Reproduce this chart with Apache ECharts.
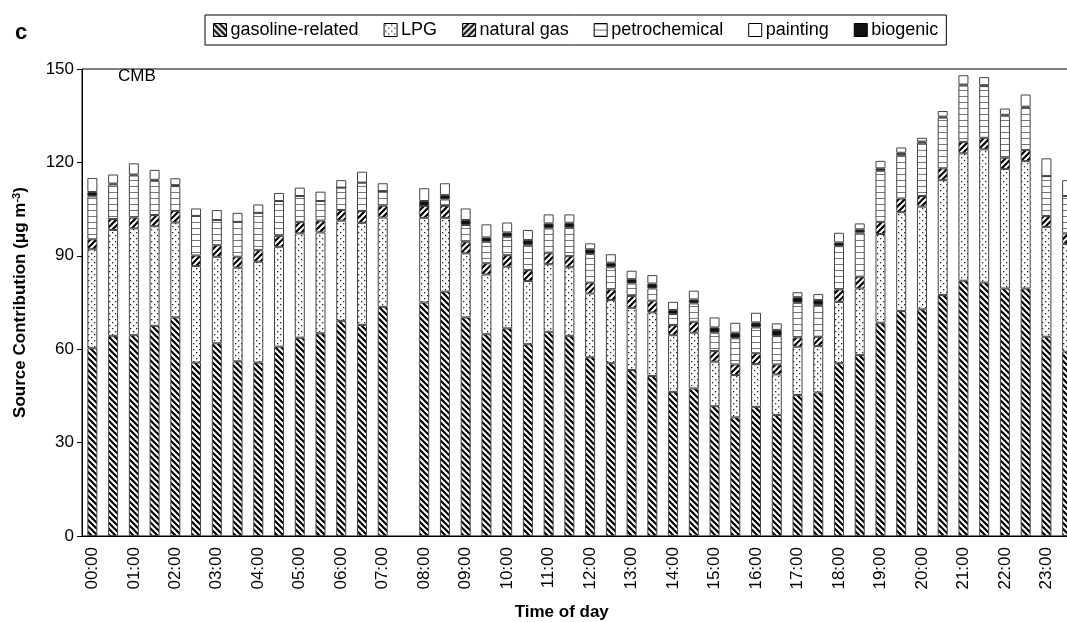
<!DOCTYPE html>
<html><head><meta charset="utf-8">
<script src="https://cdn.jsdelivr.net/npm/echarts@6/dist/echarts.min.js"></script>
<style>html,body{margin:0;padding:0;background:#fff}#c{width:1067px;height:622px}</style>
</head><body><div id="c"></div>
<script>
const times = ['00:00','00:30','01:00','01:30','02:00','02:30','03:00','03:30','04:00','04:30','05:00','05:30',
  '06:00','06:30','07:00','07:30','08:00','08:30','09:00','09:30','10:00','10:30','11:00','11:30',
  '12:00','12:30','13:00','13:30','14:00','14:30','15:00','15:30','16:00','16:30','17:00','17:30',
  '18:00','18:30','19:00','19:30','20:00','20:30','21:00','21:30','22:00','22:30','23:00','23:30'];
const gasoline = [60.3,64.3,64.5,67.5,70.2,55.7,61.9,56.1,55.7,60.8,63.7,65.1,69.1,67.8,73.6,null,
  75.0,78.5,70.2,64.8,66.7,61.6,65.6,64.3,57.4,55.5,53.3,51.4,46.3,47.4,41.7,38.1,
  41.5,38.9,45.3,46.1,55.5,58.1,68.5,72.3,72.8,77.4,82.0,81.4,79.5,79.5,64.0,59.2];
const lpg = [31.8,34.0,34.3,32.0,30.5,31.0,27.8,30.1,32.4,32.1,33.5,32.4,32.2,32.8,28.7,null,
  27.2,23.7,20.6,19.2,19.8,20.3,21.7,22.0,20.5,20.3,20.0,20.4,18.2,17.9,14.3,13.6,
  13.7,13.0,15.5,14.9,19.7,21.4,28.5,31.7,33.0,36.9,40.9,42.8,38.4,40.9,35.3,34.6];
const naturalGas = [3.2,3.5,3.5,3.6,3.7,3.4,3.7,3.5,3.7,3.5,3.7,3.8,3.4,3.8,3.8,null,
  3.8,3.8,3.7,3.6,3.7,3.5,3.7,3.6,3.5,3.4,3.8,3.8,3.3,3.5,3.4,3.4,
  3.5,3.2,3.0,3.0,4.0,3.8,3.9,4.4,3.4,3.8,3.7,3.7,3.6,3.6,3.5,3.4];
const petrochemical = [13.8,11.1,13.5,11.0,8.0,12.7,8.1,11.2,12.0,11.2,8.3,6.3,7.2,9.1,4.7,null,
  0,2.1,5.4,6.9,5.9,8.0,7.8,9.1,9.2,7.1,4.0,3.9,3.5,5.9,5.9,8.4,
  8.3,9.1,11.1,10.2,13.9,14.1,16.4,13.9,17.1,16.3,18.1,16.6,13.5,13.6,12.8,12.0];
const painting = [4.5,2.9,3.6,3.2,2.2,2.4,3.2,2.9,2.7,2.6,2.7,3.0,2.4,3.5,2.5,null,
  4.1,3.8,3.7,4.2,3.2,3.2,2.9,2.7,1.9,2.7,2.7,2.7,2.6,2.8,3.2,3.2,
  3.1,2.1,1.6,1.9,3.1,1.9,2.4,1.7,1.2,1.8,3.0,2.6,2.0,3.9,5.7,5.1];
const biogenic = [1.4,0.3,0.3,0.3,0.3,0,0,0,0,0,0,0,0,0,0,null,
  1.6,1.4,1.6,1.4,1.4,1.7,1.6,1.6,1.5,1.5,1.4,1.6,1.3,1.3,1.7,1.8,
  1.6,2.0,1.8,1.6,1.2,1.1,0.8,0.8,0.4,0.3,0.3,0.3,0.3,0.3,0,0];
const yTicks = [0, 30, 60, 90, 120, 150];

function mkPattern(w, h, draw) {
  const c = document.createElement('canvas');
  c.width = w; c.height = h;
  const g = c.getContext('2d');
  g.fillStyle = '#fff'; g.fillRect(0, 0, w, h);
  draw(g);
  return { image: c, repeat: 'repeat' };
}
const patBack = mkPattern(6, 6, g => {
  g.strokeStyle = '#000'; g.lineWidth = 2.2;
  g.beginPath();
  g.moveTo(-1, -1); g.lineTo(7, 7);
  g.moveTo(-1, 5); g.lineTo(1, 7);
  g.moveTo(5, -1); g.lineTo(7, 1);
  g.stroke();
});
const patFwd = mkPattern(6, 6, g => {
  g.strokeStyle = '#000'; g.lineWidth = 2.2;
  g.beginPath();
  g.moveTo(-1, 7); g.lineTo(7, -1);
  g.moveTo(-1, 1); g.lineTo(1, -1);
  g.moveTo(5, 7); g.lineTo(7, 5);
  g.stroke();
});
const patDots = mkPattern(6, 6, g => {
  g.fillStyle = '#222';
  g.fillRect(1, 1, 1.3, 1.3);
  g.fillRect(4, 4, 1.3, 1.3);
});
const patHoriz = mkPattern(4, 6, g => {
  g.fillStyle = '#777';
  g.fillRect(0, 0, 4, 1);
});

const chart = echarts.init(document.getElementById('c'), null, { renderer: 'canvas' });
const FONT = 'Liberation Sans';
const border = { borderColor: '#444', borderWidth: 1 };
function s(name, data, color) {
  return { name, type: 'bar', stack: 'all', data, barWidth: 10,
    itemStyle: Object.assign({ color }, border), emphasis: { disabled: true } };
}
chart.setOption({
  animation: false,
  textStyle: { fontFamily: FONT, color: '#000' },
  title: { text: 'c', left: 10, top: 17, textStyle: { fontFamily: FONT, fontSize: 22, fontWeight: 'bold', color: '#000' } },
  legend: {
    data: ['gasoline-related', 'LPG', 'natural gas', 'petrochemical', 'painting', 'biogenic'],
    left: 205, top: 15, itemWidth: 13, itemHeight: 13, itemGap: 25,
    padding: [6, 8, 6, 8], borderColor: '#000', borderWidth: 1,
    icon: 'rect',
    itemStyle: { borderColor: '#000', borderWidth: 1 },
    textStyle: { fontFamily: FONT, fontSize: 18, color: '#000', padding: [0, 0, 0, -1] }
  },
  grid: { left: 82, top: 69, width: 995.5, height: 467, show: true, borderColor: '#000', borderWidth: 1,
    backgroundColor: 'transparent', containLabel: false, outerBoundsMode: 'none' },
  graphic: [{ type: 'text', left: 118, top: 68, style: { text: 'CMB', font: '17px ' + FONT, fill: '#000' } }],
  xAxis: {
    type: 'category', data: times,
    name: 'Time of day', nameLocation: 'middle', nameGap: 68,
    nameTextStyle: { fontFamily: FONT, fontSize: 17, fontWeight: 'bold', color: '#000', padding: [0, 36, 0, 0] },
    axisLine: { lineStyle: { color: '#000', width: 1 } },
    axisTick: { inside: true, length: 6, interval: 0, lineStyle: { color: '#000' } },
    axisLabel: { interval: 1, rotate: 90, fontSize: 17, color: '#000', fontFamily: FONT, margin: 11 }
  },
  yAxis: {
    type: 'value', min: 0, max: 150, interval: 30,
    name: '{a|Source Contribution (μg m}{b|-3}{a|)}', nameLocation: 'middle', nameGap: 52,
    nameTextStyle: { rich: {
      a: { fontFamily: FONT, fontSize: 17, fontWeight: 'bold', color: '#000' },
      b: { fontFamily: FONT, fontSize: 11, fontWeight: 'bold', color: '#000', verticalAlign: 'top', padding: [0, 0, 8, 0] } } },
    axisLine: { show: true, lineStyle: { color: '#000', width: 1 } },
    axisTick: { show: true, length: 5, lineStyle: { color: '#000' } },
    splitLine: { show: false },
    axisLabel: { fontSize: 17, color: '#000', fontFamily: FONT, margin: 8,
      formatter: v => yTicks.indexOf(v) >= 0 ? String(v) : '' }
  },
  series: [
    s('gasoline-related', gasoline, patBack),
    s('LPG', lpg, patDots),
    s('natural gas', naturalGas, patFwd),
    s('petrochemical', petrochemical, patHoriz),
    s('biogenic', biogenic, '#111'),
    s('painting', painting, '#fff')
  ]
});
</script></body></html>
